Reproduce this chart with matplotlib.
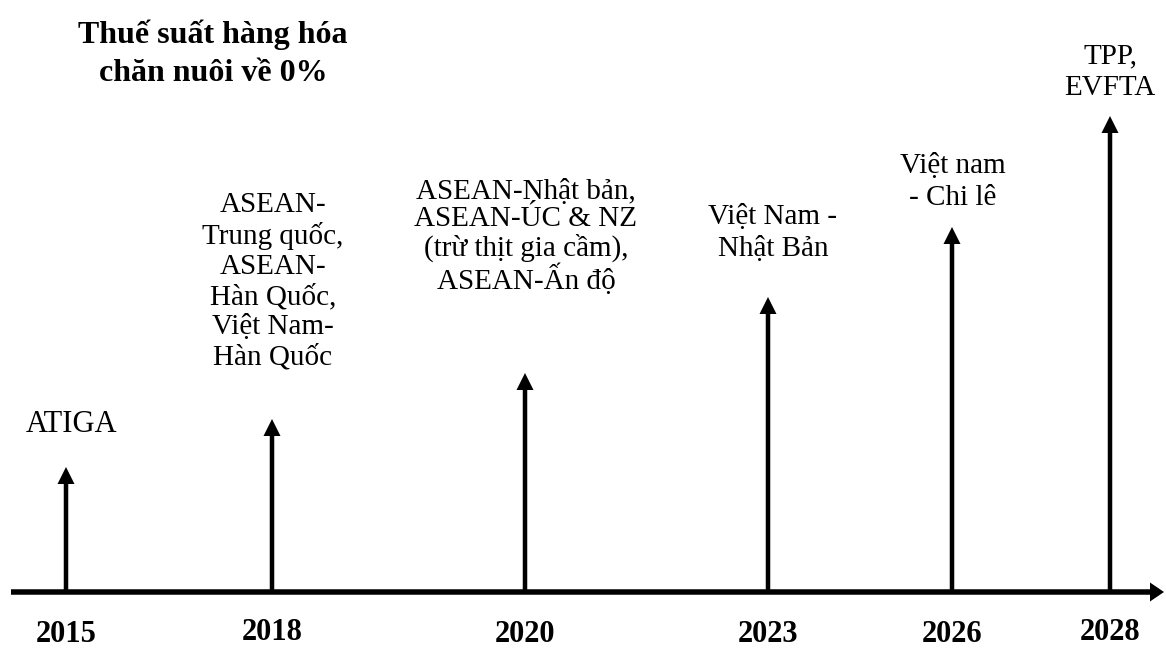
import matplotlib
matplotlib.use("Agg")
import matplotlib.pyplot as plt

# ---- data ----
years = ["2015", "2018", "2020", "2023", "2026", "2028"]
agreements = [
    "ATIGA",
    "ASEAN-\nTrung quốc,\nASEAN-\nHàn Quốc,\nViệt Nam-\nHàn Quốc",
    "ASEAN-Nhật bản,\nASEAN-ÚC & NZ\n(trừ thịt gia cầm),\nASEAN-Ấn độ",
    "Việt Nam -\nNhật Bản",
    "Việt nam\n- Chi lê",
    "TPP,\nEVFTA",
]
arrow_heights = [125, 173, 219, 295, 365, 476]
title = "Thuế suất hàng hóa\nchăn nuôi về 0%"

# ---- layout (pixel-based, axis line at y=0) ----
x_pos = [66, 272, 525, 768, 952, 1110]
label_y = [168, 311, 355, 359, 410, 520]
label_dx = [6, 1, 1, 5, 1, 0]
label_ls = [1.0, 1.19, 1.06, 1.27, 1.27, 1.3]
label_fs = [22, 21, 21, 21, 21, 21]
year_y = [-42, -40, -42, -42, -42, -40]

W, H = 1166, 648
AXIS_Y = 592

fig = plt.figure(figsize=(W / 100, H / 100), dpi=100)
ax = fig.add_axes([0, 0, 1, 1])
ax.set_xlim(0, W)
ax.set_ylim(AXIS_Y - H, AXIS_Y)
ax.axis("off")

serif = ["Liberation Serif", "DejaVu Serif"]

# main time axis
ax.arrow(11, 0, 1164 - 11, 0, width=5.5, head_width=19, head_length=14,
         length_includes_head=True, fc="black", ec="none")

for i, yr in enumerate(years):
    x = x_pos[i]
    ax.arrow(x, 0, 0, arrow_heights[i], width=4.5, head_width=17, head_length=17,
             length_includes_head=True, fc="black", ec="none", zorder=3)
    ax.text(x + label_dx[i], label_y[i], agreements[i], ha="center", va="center",
            fontsize=label_fs[i], family=serif, linespacing=label_ls[i])
    ax.text(x, year_y[i], yr, ha="center", va="center", fontsize=22,
            fontweight="bold", family=serif)

ax.text(213, AXIS_Y - 54, title, ha="center", va="center", fontsize=23,
        fontweight="bold", family=serif, linespacing=1.4)

fig.savefig("out.png", dpi=100)
